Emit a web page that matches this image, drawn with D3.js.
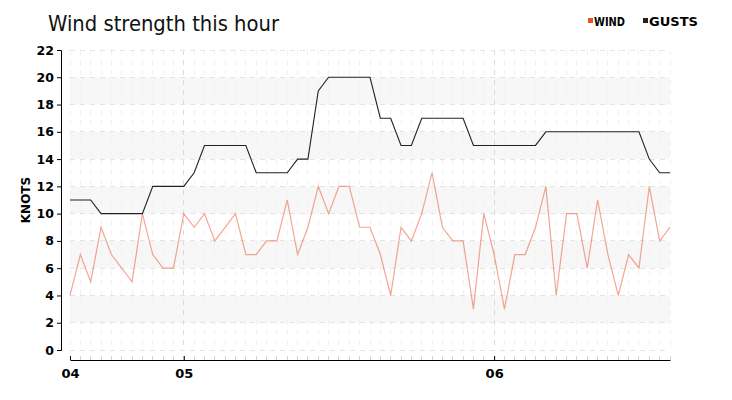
<!DOCTYPE html>
<html><head><meta charset="utf-8">
<script src="https://cdn.jsdelivr.net/npm/d3@7"></script>
<style>
body{margin:0;background:#fff;}
svg text{font-family:"DejaVu Sans",sans-serif;}
</style></head>
<body><svg id="c" width="732" height="400"></svg>
<script>
const startTime = "04:38";
const endTime = "06:34";
const stepMinutes = 2;
const wind = [4,7,5,9,7,6,5,10,7,6,6,10,9,10,8,9,10,7,7,8,8,11,7,9,12,10,12,12,9,9,7,4,9,8,10,13,9,8,8,3,10,7,3,7,7,9,12,4,10,10,6,11,7,4,7,6,12,8,9];
const gusts = [11,11,11,10,10,10,10,10,12,12,12,12,13,15,15,15,15,15,13,13,13,13,14,14,19,20,20,20,20,20,17,17,15,15,17,17,17,17,17,15,15,15,15,15,15,15,16,16,16,16,16,16,16,16,16,16,14,13,13];
const yTicks = [0,2,4,6,8,10,12,14,16,18,20,22];
const bands = [[2,4],[6,8],[10,12],[14,16],[18,20]];
const seriesNames = ["WIND","GUSTS"];
const seriesColors = ["#e8502a","#222"];

const svg = d3.select("#c");
const parse = d3.timeParse("%Y-%m-%d %H:%M");
const t0 = parse("2024-01-01 " + startTime), t1 = parse("2024-01-01 " + endTime);
const times = wind.map((d,i)=> d3.timeMinute.offset(t0, i*stepMinutes));

const x = d3.scaleTime().domain([t0,t1]).range([70,670]);
const y = d3.scaleLinear().domain([0,22]).range([350,50]);

// bands
svg.append("g").selectAll("rect").data(bands).join("rect")
  .attr("x",70).attr("width",600)
  .attr("y",d=>y(d[1])).attr("height",d=>y(d[0])-y(d[1]))
  .attr("fill","#f7f7f7");

// vertical grid
const minorTimes = d3.timeMinute.every(2).range(t0, d3.timeMinute.offset(t1,1));
svg.append("g").selectAll("line").data(minorTimes).join("line")
  .attr("x1",d=>x(d)).attr("x2",d=>x(d)).attr("y1",50).attr("y2",350)
  .attr("stroke",d=>d.getMinutes()===0?"#dadada":"#f1f1f1")
  .attr("stroke-dasharray","5,5").attr("shape-rendering","crispEdges");
// horizontal grid
svg.append("g").selectAll("line").data(yTicks).join("line")
  .attr("x1",70).attr("x2",670).attr("y1",d=>y(d)).attr("y2",d=>y(d))
  .attr("stroke","#e4e4e4").attr("stroke-dasharray","5,5").attr("shape-rendering","crispEdges");

// y axis
const ya = svg.append("g").attr("transform","translate(61,0)")
  .call(d3.axisLeft(y).tickValues(yTicks).tickSize(4).tickPadding(3));
ya.select(".domain").attr("stroke","#000");
ya.selectAll("text").attr("font-size","12.5px").attr("font-weight","bold").attr("fill","#000");

// x minor ticks
svg.append("g").selectAll("line").data(minorTimes).join("line")
  .attr("x1",d=>x(d)).attr("x2",d=>x(d)).attr("y1",356).attr("y2",360)
  .attr("stroke","#d4d4d4").attr("shape-rendering","crispEdges");
// x axis
const hourTicks = [t0].concat(d3.timeHour.range(t0,t1));
const xa = svg.append("g").attr("transform","translate(0,360)")
  .call(d3.axisBottom(x).tickValues(hourTicks).tickFormat(d3.timeFormat("%H")).tickSizeInner(-4).tickSizeOuter(0).tickPadding(6));
xa.select(".domain").attr("stroke","#000");
xa.selectAll(".tick line").attr("stroke","#000");
xa.selectAll("text").attr("font-size","13px").attr("font-weight","bold").attr("fill","#000").attr("dy","0.9em");

// lines
const lineGen = vals => d3.line().x((d,i)=>x(times[i])).y(d=>y(d))(vals);
svg.append("path").attr("d",lineGen(wind)).attr("fill","none")
  .attr("stroke",seriesColors[0]).attr("stroke-opacity",0.5).attr("stroke-width",1.2);
svg.append("path").attr("d",lineGen(gusts)).attr("fill","none")
  .attr("stroke",seriesColors[1]).attr("stroke-width",1.1);

// title
svg.append("text").attr("x",48).attr("y",31).text("Wind strength this hour")
  .attr("font-size","21px").attr("fill","#111")
  .style("font-family","'DejaVu Sans Condensed','Liberation Sans Narrow',sans-serif")
  .style("font-weight","300")
  .attr("textLength",231).attr("lengthAdjust","spacingAndGlyphs");

// y label
svg.append("text").attr("transform","translate(26,200) rotate(-90)")
  .attr("text-anchor","middle").attr("dominant-baseline","middle")
  .attr("font-size","12px").attr("font-weight","bold").text("KNOTS");

// legend
const lg = svg.append("g");
const legendX = [588, 643];
const legendLen = [31, 49];
seriesNames.forEach((n,i)=>{
  lg.append("rect").attr("x",legendX[i]).attr("y",18).attr("width",5).attr("height",5).attr("fill",seriesColors[i]);
  lg.append("text").attr("x",legendX[i]+6).attr("y",25.5).text(n)
    .attr("font-size","12px").attr("font-weight","bold").attr("fill","#000")
    .attr("textLength",legendLen[i]).attr("lengthAdjust","spacingAndGlyphs");
});
</script></body></html>
